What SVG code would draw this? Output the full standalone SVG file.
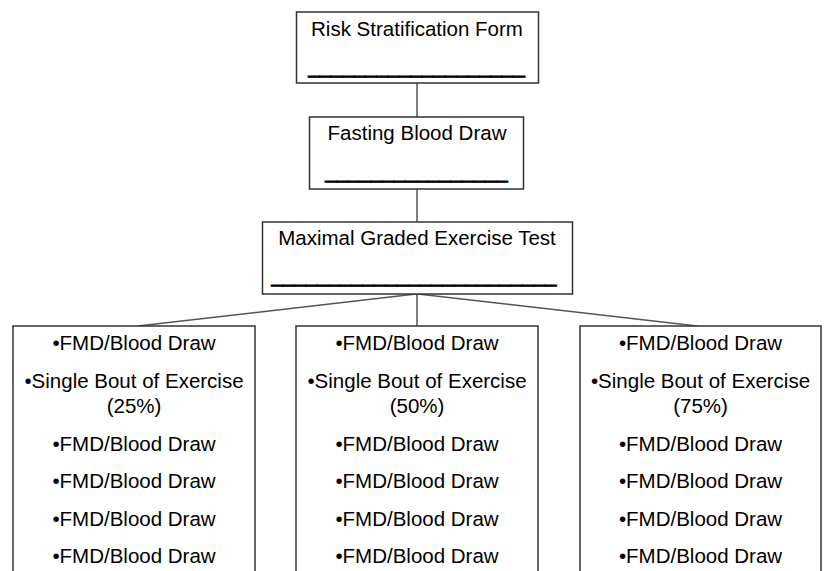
<svg xmlns="http://www.w3.org/2000/svg" width="825" height="571" viewBox="0 0 825 571">
<style>
.box{fill:#fff;stroke:#333;stroke-width:1.5}
.t{font-family:"Liberation Sans",Arial,sans-serif;font-size:20.5px;fill:#000;text-anchor:middle}
.u{stroke:#000;stroke-width:0.8}
.c{stroke:#555;stroke-width:1.5;fill:none}
</style>
<rect width="825" height="571" fill="#fff"/>
<g id="connectors">
<line class="c" x1="417" y1="83" x2="417" y2="117"/>
<line class="c" x1="417" y1="189" x2="417" y2="222"/>
<line class="c" x1="417" y1="294" x2="417" y2="326"/>
<line class="c" x1="416" y1="294" x2="138" y2="326"/>
<line class="c" x1="418" y1="294" x2="697" y2="326"/>
</g>
<g id="risk">
<rect class="box" x="296.5" y="12" width="242" height="71"/>
<text class="t" x="417" y="36">Risk Stratification Form</text>
<text class="t u" x="416.5" y="73">___________________</text>
</g>
<g id="fasting">
<rect class="box" x="309.5" y="117" width="214" height="72"/>
<text class="t" x="417" y="140">Fasting Blood Draw</text>
<text class="t u" x="416.5" y="178">________________</text>
</g>
<g id="maximal">
<rect class="box" x="262.5" y="222" width="310" height="72"/>
<text class="t" x="417" y="245">Maximal Graded Exercise Test</text>
<text class="t u" x="414" y="282">_________________________</text>
</g>
<g id="left">
<rect class="box" x="13" y="326" width="242" height="260"/>
<text class="t" x="134" y="350">•FMD/Blood Draw</text>
<text class="t" x="134" y="388">•Single Bout of Exercise</text>
<text class="t" x="134" y="413">(25%)</text>
<text class="t" x="134" y="451">•FMD/Blood Draw</text>
<text class="t" x="134" y="488">•FMD/Blood Draw</text>
<text class="t" x="134" y="526">•FMD/Blood Draw</text>
<text class="t" x="134" y="563">•FMD/Blood Draw</text>
</g>
<g id="middle">
<rect class="box" x="296" y="326" width="242" height="260"/>
<text class="t" x="417" y="350">•FMD/Blood Draw</text>
<text class="t" x="417" y="388">•Single Bout of Exercise</text>
<text class="t" x="417" y="413">(50%)</text>
<text class="t" x="417" y="451">•FMD/Blood Draw</text>
<text class="t" x="417" y="488">•FMD/Blood Draw</text>
<text class="t" x="417" y="526">•FMD/Blood Draw</text>
<text class="t" x="417" y="563">•FMD/Blood Draw</text>
</g>
<g id="right">
<rect class="box" x="580" y="326" width="241" height="260"/>
<text class="t" x="700.5" y="350">•FMD/Blood Draw</text>
<text class="t" x="700.5" y="388">•Single Bout of Exercise</text>
<text class="t" x="700.5" y="413">(75%)</text>
<text class="t" x="700.5" y="451">•FMD/Blood Draw</text>
<text class="t" x="700.5" y="488">•FMD/Blood Draw</text>
<text class="t" x="700.5" y="526">•FMD/Blood Draw</text>
<text class="t" x="700.5" y="563">•FMD/Blood Draw</text>
</g>
</svg>
